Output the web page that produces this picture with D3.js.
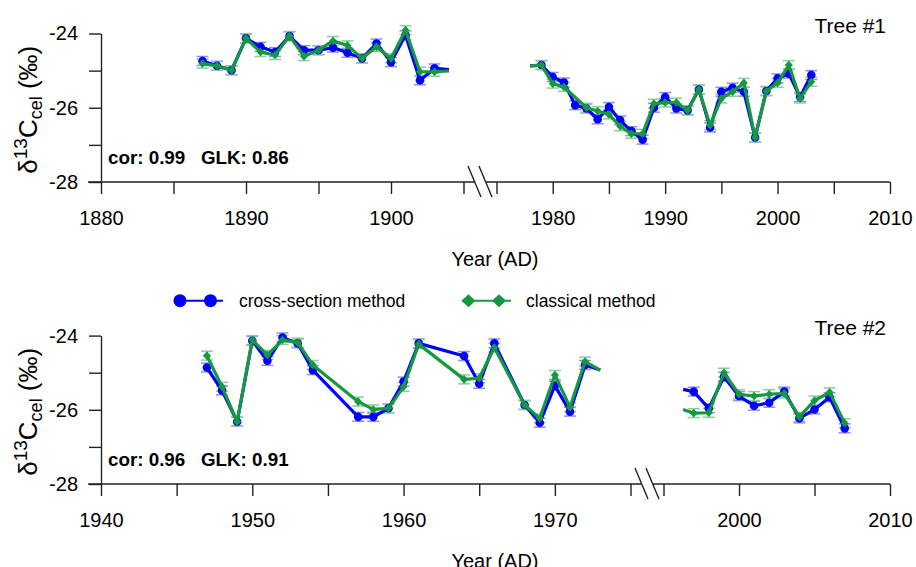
<!DOCTYPE html>
<html><head><meta charset="utf-8">
<script src="https://cdn.jsdelivr.net/npm/d3@7"></script>
<style>body{margin:0;background:#fff} svg{font-family:"Liberation Sans",Arial,sans-serif}</style>
</head><body><svg id="c" width="916" height="567"></svg>
<script>
// ---------- data ----------
const tree1EarlyYears = [1887,1888,1889,1890,1891,1892,1893,1894,1895,1896,1897,1898,1899,1900,1901,1902,1903,1904];
const tree1EarlyCross = [-24.74,-24.87,-24.99,-24.13,-24.36,-24.50,-24.07,-24.45,-24.45,-24.38,-24.52,-24.67,-24.27,-24.77,-24.05,-25.26,-24.94,-24.97];
const tree1EarlyClassical = [-24.81,-24.87,-24.99,-24.13,-24.50,-24.58,-24.07,-24.61,-24.45,-24.20,-24.32,-24.67,-24.36,-24.67,-23.91,-25.03,-25.03,-25.01];

const tree1LateYears = [1978,1979,1980,1981,1982,1983,1984,1985,1986,1987,1988,1989,1990,1991,1992,1993,1994,1995,1996,1997,1998,1999,2000,2001,2002,2003];
const tree1LateCross = [-24.87,-24.85,-25.17,-25.32,-25.93,-26.02,-26.31,-25.98,-26.34,-26.63,-26.86,-26.00,-25.71,-26.02,-26.07,-25.51,-26.53,-25.57,-25.46,-25.57,-26.80,-25.55,-25.21,-25.08,-25.71,-25.12];
const tree1LateClassical = [-24.87,-24.85,-25.35,-25.44,null,-26.00,-26.09,-26.18,-26.50,-26.70,-26.70,-25.89,-25.86,-25.86,-26.07,-25.51,-26.47,-25.75,-25.57,-25.33,-26.80,-25.55,-25.33,-24.85,-25.75,-25.30];

const tree2EarlyYears = [1947,1948,1949,1950,1951,1952,1953,1954,1957,1958,1959,1960,1961,1964,1965,1966,1968,1969,1970,1971,1972,1973];
const tree2EarlyCross = [-24.86,-25.48,-26.32,-24.14,-24.68,-24.05,-24.21,-24.93,-26.19,-26.19,-25.96,-25.24,-24.21,-24.55,-25.30,-24.21,-25.87,-26.35,-25.35,-26.05,-24.79,-24.93];
const tree2EarlyClassical = [-24.54,-25.38,-26.32,-24.12,-24.52,-24.12,-24.19,-24.79,-25.78,-25.99,-25.96,-25.38,-24.23,-25.18,-25.15,-24.32,-25.87,-26.23,-25.06,-25.93,-24.70,-24.93];

const tree2LateYears = [1996.3,1997,1998,1999,2000,2001,2002,2003,2004,2005,2006,2007];
const tree2LateCross = [-25.45,-25.51,-25.96,-25.11,-25.63,-25.89,-25.81,-25.51,-26.23,-25.99,-25.66,-26.50];
const tree2LateClassical = [-25.99,-26.09,-26.08,-25.00,-25.58,-25.63,-25.58,-25.56,-26.19,-25.75,-25.53,-26.36];

// points drawn without a marker (line ends at the segment edges)
const unmarkedYears = [1904, 1978, 1973, 1996.3];
const measurementError = 0.12; // per-point uncertainty (‰)

const yTicks = [-28,-27,-26,-25,-24];
const yTickLabels = ["-28","","-26","","-24"];
const tree1LeftTicks = [1880,1885,1890,1895,1900,1905];
const tree1LeftLabels = ["1880","","1890","","1900",""];
const tree1RightTicks = [1975,1980,1985,1990,1995,2000,2005,2010];
const tree1RightLabels = ["","1980","","1990","","2000","","2010"];
const tree2LeftTicks = [1940,1945,1950,1955,1960,1965,1970,1975];
const tree2LeftLabels = ["1940","","1950","","1960","","1970",""];
const tree2RightTicks = [1995,2000,2005,2010];
const tree2RightLabels = ["","2000","","2010"];

const seriesNames = ["cross-section method","classical method"];
const panelTitles = ["Tree #1","Tree #2"];
const corLabels = ["cor: 0.99   GLK: 0.86","cor: 0.96   GLK: 0.91"];

// ---------- drawing ----------
const svg = d3.select('#c');
const BLUE = '#0000ff', GREEN = '#16983f';
const BLUE_ERR = '#8f8ff2', GREEN_ERR = '#86d09c';
const FONT = 20;

function drawPanel(cfg) {
  const g = svg.append('g');
  const y = d3.scaleLinear().domain([-28,-24]).range([cfg.yBot, cfg.yTop]);
  const xL = d3.scaleLinear().domain(cfg.leftDomain).range([101, cfg.breakC - 16.5]);
  const xR = d3.scaleLinear().domain(cfg.rightDomain).range([cfg.breakC + 16.5, 890]);

  const ya = g.append('g').attr('transform', 'translate(101,0)')
    .call(d3.axisLeft(y).tickValues(yTicks).tickSize(12).tickSizeOuter(0).tickPadding(11)
      .tickFormat((d,i) => yTickLabels[i]));
  const xa1 = g.append('g').attr('transform', `translate(0,${cfg.yBot})`)
    .call(d3.axisBottom(xL).tickValues(cfg.leftTicks).tickSize(12).tickSizeOuter(0).tickPadding(17)
      .tickFormat((d,i) => cfg.leftLabels[i]));
  const xa2 = g.append('g').attr('transform', `translate(0,${cfg.yBot})`)
    .call(d3.axisBottom(xR).tickValues(cfg.rightTicks).tickSize(12).tickSizeOuter(0).tickPadding(17)
      .tickFormat((d,i) => cfg.rightLabels[i]));
  xa1.select('.domain').remove();
  xa2.select('.domain').remove();
  [ya, xa1, xa2].forEach(a => {
    a.selectAll('text').attr('font-size', FONT).attr('fill', '#000').attr('font-family', '"Liberation Sans",Arial,sans-serif');
    a.selectAll('line, path').attr('stroke', '#222').attr('stroke-width', 1.4);
  });
  const c = cfg.breakC, yb = cfg.yBot;
  g.append('line').attr('x1', 88).attr('x2', c - 5.3).attr('y1', yb).attr('y2', yb).attr('stroke', '#222').attr('stroke-width', 1.4);
  g.append('line').attr('x1', c + 5.7).attr('x2', xR.range()[1]).attr('y1', yb).attr('y2', yb).attr('stroke', '#222').attr('stroke-width', 1.4);
  [[-12, 1], [-1, 12]].forEach(([a, b]) => {
    g.append('line').attr('x1', c + a).attr('y1', yb - 16).attr('x2', c + b).attr('y2', yb + 15)
      .attr('stroke', '#222').attr('stroke-width', 1.4);
  });

  const segments = [
    {x: xL, years: cfg.earlyYears, cross: cfg.earlyCross, classical: cfg.earlyClassical},
    {x: xR, years: cfg.lateYears, cross: cfg.lateCross, classical: cfg.lateClassical}
  ];
  const series = [
    {key: 'cross', color: BLUE, err: BLUE_ERR},
    {key: 'classical', color: GREEN, err: GREEN_ERR}
  ];
  series.forEach(s => {
    segments.forEach(seg => {
      const pts = seg.years.map((yr, i) => ({yr, v: seg[s.key][i]}))
        .filter(p => p.v !== null && !unmarkedYears.includes(p.yr));
      const eg = g.append('g').attr('stroke', s.err).attr('stroke-width', 1.5);
      pts.forEach(p => {
        const px = seg.x(p.yr);
        const y1 = y(p.v + measurementError), y2 = y(p.v - measurementError);
        eg.append('line').attr('x1', px).attr('x2', px).attr('y1', y1).attr('y2', y2);
        eg.append('line').attr('x1', px - 6).attr('x2', px + 6).attr('y1', y1).attr('y2', y1);
        eg.append('line').attr('x1', px - 6).attr('x2', px + 6).attr('y1', y2).attr('y2', y2);
      });
    });
  });
  series.forEach(s => {
    segments.forEach(seg => {
      const pts = seg.years.map((yr, i) => ({yr, v: seg[s.key][i]})).filter(p => p.v !== null);
      const line = d3.line().x(p => seg.x(p.yr)).y(p => y(p.v));
      g.append('path').datum(pts).attr('d', line).attr('fill', 'none')
        .attr('stroke', s.color).attr('stroke-width', 3.2).attr('stroke-linejoin', 'round');
      const mk = pts.filter(p => !unmarkedYears.includes(p.yr));
      if (s.key === 'cross') {
        g.selectAll(null).data(mk).enter().append('circle')
          .attr('cx', p => seg.x(p.yr)).attr('cy', p => y(p.v)).attr('r', 4.3).attr('fill', s.color);
      } else {
        g.selectAll(null).data(mk).enter().append('path')
          .attr('d', p => { const px = seg.x(p.yr), py = y(p.v); return `M${px},${py-4.3}L${px+4},${py}L${px},${py+4.3}L${px-4},${py}Z`; })
          .attr('fill', s.color);
      }
    });
  });

  g.append('text').attr('x', 886).attr('y', cfg.yTop - 1).attr('text-anchor', 'end')
    .attr('font-size', 21).text(cfg.title);
  g.append('text').attr('x', 108).attr('y', cfg.yBot - 18).attr('font-size', 18.8)
    .attr('font-weight', 'bold').style('white-space', 'pre').text(cfg.cor);
  g.append('text').attr('x', 495).attr('y', cfg.yBot + 84).attr('text-anchor', 'middle')
    .attr('font-size', FONT).text('Year (AD)');
  const yl = g.append('text').attr('transform', `translate(37,${(cfg.yTop + cfg.yBot) / 2 + 2}) rotate(-90)`)
    .attr('text-anchor', 'middle').attr('font-size', 26);
  yl.append('tspan').text('δ');
  yl.append('tspan').attr('font-size', 19).attr('dy', -10).text('13');
  yl.append('tspan').attr('dy', 10).text('C');
  yl.append('tspan').attr('font-size', 18).attr('dy', 5).text('cel');
  yl.append('tspan').attr('dy', -5).text(' (‰)');
}

drawPanel({yTop: 33.5, yBot: 182, breakC: 480,
  leftDomain: [1880, 1905], rightDomain: [1975, 2010],
  leftTicks: tree1LeftTicks, leftLabels: tree1LeftLabels, rightTicks: tree1RightTicks, rightLabels: tree1RightLabels,
  earlyYears: tree1EarlyYears, earlyCross: tree1EarlyCross, earlyClassical: tree1EarlyClassical,
  lateYears: tree1LateYears, lateCross: tree1LateCross, lateClassical: tree1LateClassical,
  title: panelTitles[0], cor: corLabels[0]});
drawPanel({yTop: 335.6, yBot: 484, breakC: 647,
  leftDomain: [1940, 1975], rightDomain: [1995, 2010],
  leftTicks: tree2LeftTicks, leftLabels: tree2LeftLabels, rightTicks: tree2RightTicks, rightLabels: tree2RightLabels,
  earlyYears: tree2EarlyYears, earlyCross: tree2EarlyCross, earlyClassical: tree2EarlyClassical,
  lateYears: tree2LateYears, lateCross: tree2LateCross, lateClassical: tree2LateClassical,
  title: panelTitles[1], cor: corLabels[1]});

const lg = svg.append('g');
const ly = 300.7;
lg.append('line').attr('x1', 174).attr('x2', 223).attr('y1', ly).attr('y2', ly).attr('stroke', BLUE).attr('stroke-width', 2);
[180, 210.5].forEach(cx => lg.append('circle').attr('cx', cx).attr('cy', ly).attr('r', 6.5).attr('fill', BLUE));
lg.append('text').attr('x', 239).attr('y', ly + 6.5).attr('font-size', 17.5).text(seriesNames[0]);
lg.append('line').attr('x1', 462).attr('x2', 511).attr('y1', ly).attr('y2', ly).attr('stroke', GREEN).attr('stroke-width', 2);
[468.5, 499].forEach(cx => lg.append('path')
  .attr('d', `M${cx},${ly-6.5}L${cx+7},${ly}L${cx},${ly+6.5}L${cx-7},${ly}Z`).attr('fill', GREEN));
lg.append('text').attr('x', 526).attr('y', ly + 6.5).attr('font-size', 17.5).text(seriesNames[1]);
</script></body></html>
